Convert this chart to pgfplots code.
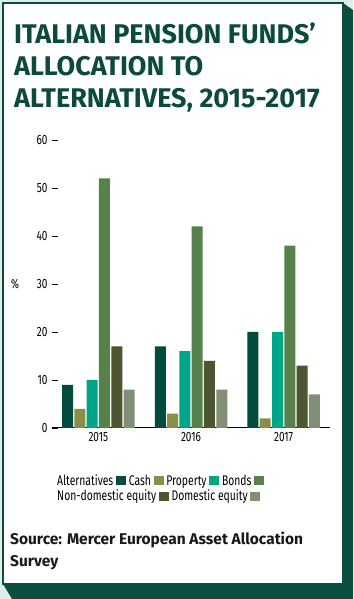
\documentclass[border=0pt]{standalone}
\usepackage{pgfplots}
\pgfplotsset{compat=1.18}
\usepackage{fontspec}
\setmainfont{Fira Sans}
\newfontfamily\cond[FakeStretch=0.74]{Fira Sans}
\definecolor{bgout}{HTML}{DCEEEA}
\definecolor{frame}{HTML}{0A4D41}
\definecolor{titlec}{HTML}{0B4A3C}
\definecolor{cAlt}{HTML}{034B3F}
\definecolor{cCash}{HTML}{8B8D4A}
\definecolor{cProp}{HTML}{00A587}
\definecolor{cBond}{HTML}{57814A}
\definecolor{cNon}{HTML}{4C5630}
\definecolor{cDom}{HTML}{809076}
\begin{document}
\begin{tikzpicture}[x=1pt,y=1pt]
\useasboundingbox (0,0) rectangle (353,599);
\fill[bgout] (0,0) rectangle (353,599);
\fill[frame] (343,596) -- (353,589) -- (353,0) -- (12,0) -- (3,15) -- (343,15) -- cycle;
\fill[white] (3,15) rectangle (343,596);
\draw[frame,line width=1.2pt] (3,15) rectangle (343,596);
% title
\node[anchor=base west,inner sep=0,text=titlec,font=\fontsize{27}{27}\selectfont\bfseries] at (14,555) {ITALIAN PENSION FUNDS’};
\node[anchor=base west,inner sep=0,text=titlec,font=\fontsize{27}{27}\selectfont\bfseries] at (14,523) {ALLOCATION TO};
\node[anchor=base west,inner sep=0,text=titlec,font=\fontsize{27}{27}\selectfont\bfseries] at (14,491) {ALTERNATIVES, 2015-2017};
\begin{axis}[
  at={(52pt,171pt)}, anchor=south west,
  scale only axis, width=278pt, height=288pt,
  xmin=-0.5, xmax=2.5, ymin=0, ymax=60,
  ybar=1.3pt, bar width=11pt,
  xtick=data, xticklabels={2015,2016,2017},
  ytick={0,10,20,30,40,50,60},
  axis x line*=bottom, axis y line*=left,
  y axis line style={draw=none},
  x axis line style={line width=1pt,-},
  xtick style={draw=none},
  ytick style={line width=0.9pt,black},
  tick align=inside, major tick length=6pt,
  /pgf/number format/assume math mode=true,
  tick label style={font=\cond\fontsize{13.5}{13.5}\selectfont},
  yticklabel style={xshift=-1pt},
  xticklabel style={yshift=-1pt},
  ylabel={\%}, ylabel style={rotate=-90,anchor=center,font=\cond\fontsize{13}{13}\selectfont,at={(axis description cs:0,0.5)},xshift=-37pt},
  clip=false,
]
\addplot[fill=cAlt,draw=none] coordinates {(0,9) (1,17) (2,20)};
\addplot[fill=cCash,draw=none] coordinates {(0,4) (1,3) (2,2)};
\addplot[fill=cProp,draw=none] coordinates {(0,10) (1,16) (2,20)};
\addplot[fill=cBond,draw=none] coordinates {(0,52) (1,42) (2,38)};
\addplot[fill=cNon,draw=none] coordinates {(0,17) (1,14) (2,13)};
\addplot[fill=cDom,draw=none] coordinates {(0,8) (1,8) (2,7)};
\end{axis}
% legend
\newcommand{\sw}[1]{\textcolor{#1}{\rule[0pt]{10pt}{9pt}}}
\node[anchor=north west,inner sep=0,align=left,font=\cond\fontsize{14}{15.5}\selectfont] at (57,125)
 {Alternatives \sw{cAlt} Cash \sw{cCash} Property \sw{cProp} Bonds \sw{cBond}\\
  Non-domestic equity \sw{cNon} Domestic equity \sw{cDom}};
% source
\node[anchor=base west,inner sep=0,text=black!90,font=\fontsize{15.5}{15.5}\selectfont\bfseries] at (10,54) {Source: Mercer European Asset Allocation};
\node[anchor=base west,inner sep=0,text=black!90,font=\fontsize{15.5}{15.5}\selectfont\bfseries] at (10,32) {Survey};
\end{tikzpicture}
\end{document}
